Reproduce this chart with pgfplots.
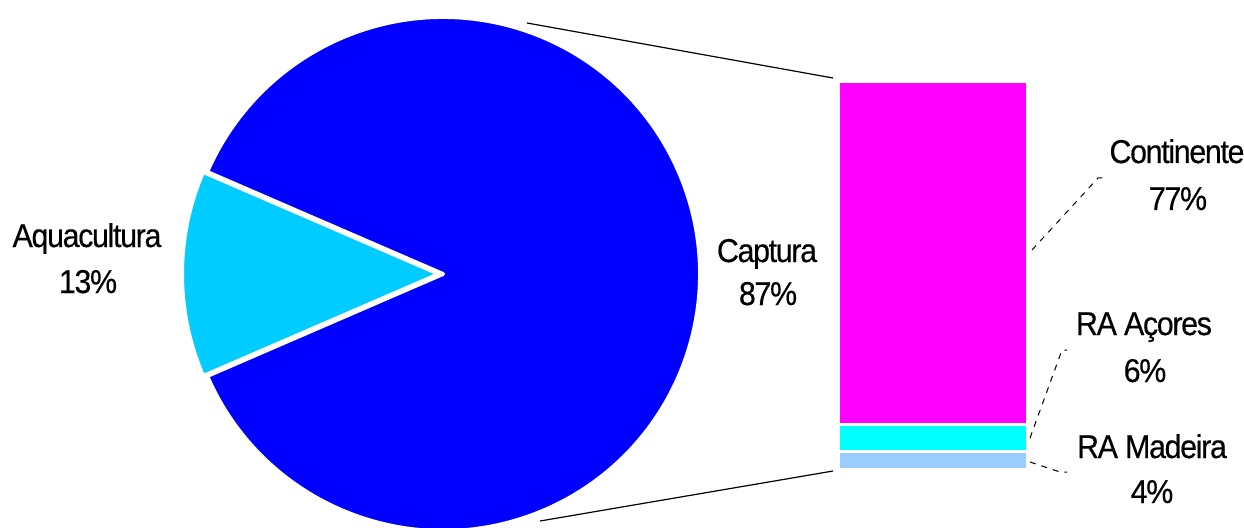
\documentclass[border=0pt]{standalone}
\usepackage{pgfplots}
\pgfplotsset{compat=1.18}
\usepackage{fontspec}
\setmainfont{Liberation Sans}[FakeStretch=0.92, LetterSpace=-4, FakeBold=0.4]
\definecolor{pieblue}{RGB}{0,0,255}
\definecolor{pieaqua}{RGB}{0,204,255}
\definecolor{barmag}{RGB}{255,0,255}
\definecolor{barcyan}{RGB}{0,255,255}
\definecolor{barlight}{RGB}{153,204,255}
\begin{document}
\begin{tikzpicture}[every node/.style={font=\fontsize{16.5}{20}\selectfont, inner sep=0pt}]
% pie values (percent)
\def\vcapt{87}
\def\vaqua{13}
\pgfmathsetmacro{\half}{\vaqua*1.8}
\pgfmathsetmacro{\aS}{180-\half}
\pgfmathsetmacro{\aE}{180+\half}
\pgfmathsetmacro{\cE}{\aS+360}
\begin{axis}[name=main, at={(0,0)}, anchor=south west, scale only axis,
  width=622pt, height=263.5pt, xmin=0, xmax=1244, ymin=0, ymax=527,
  y dir=reverse, hide axis, clip=false]
\addplot[draw=none] coordinates {(0,0)};
\path[fill=pieblue, draw=white, line width=2pt, line join=round]
  (axis cs:443,274) -- ++(\aE:128.5pt) arc[start angle=\aE, end angle=\cE, radius=128.5pt] -- cycle;
\path[fill=pieaqua, draw=white, line width=2pt, line join=round]
  (axis cs:439,274) -- ++(\aS:128.5pt) arc[start angle=\aS, end angle=\aE, radius=128.5pt] -- cycle;
% connector lines
\draw[black, line width=0.6pt] (axis cs:527,23) -- (axis cs:833,78);
\draw[black, line width=0.6pt] (axis cs:540,521) -- (axis cs:833,471);
% leader lines
\draw[black, line width=0.5pt, dash pattern=on 3pt off 3pt] (axis cs:1032,250) -- (axis cs:1098,178) -- (axis cs:1105,178);
\draw[black, line width=0.5pt, dash pattern=on 3pt off 3pt] (axis cs:1030,438) -- (axis cs:1062,350) -- (axis cs:1067,350);
\draw[black, line width=0.5pt, dash pattern=on 3pt off 3pt] (axis cs:1030,462) -- (axis cs:1060,472) -- (axis cs:1067,472);
% labels
\node[anchor=base] at (axis cs:87,247) {Aquacultura};
\node[anchor=base] at (axis cs:88,293) {13\%};
\node[anchor=base] at (axis cs:767,262) {Captura};
\node[anchor=base] at (axis cs:768,305) {87\%};
\node[anchor=base] at (axis cs:1177,163) {Continente};
\node[anchor=base] at (axis cs:1178,210) {77\%};
\node[anchor=base] at (axis cs:1144,335) {RA Açores};
\node[anchor=base] at (axis cs:1145,382) {6\%};
\node[anchor=base] at (axis cs:1152,458) {RA Madeira};
\node[anchor=base] at (axis cs:1152,503) {4\%};
\end{axis}
\begin{axis}[at={(419.5pt,29pt)}, anchor=south west, scale only axis,
  width=94pt, height=193.5pt, xmin=-0.5, xmax=0.5, ymin=0, ymax=87,
  hide axis, ybar stacked, bar width=94pt, clip=false]
\addplot[fill=barlight, draw=white, line width=1.3pt] coordinates {(0,4)};
\addplot[fill=barcyan, draw=white, line width=1.3pt] coordinates {(0,6)};
\addplot[fill=barmag, draw=white, line width=1.3pt] coordinates {(0,77)};
\end{axis}
\pgfresetboundingbox
\useasboundingbox (0,0) rectangle (622pt,263.5pt);
\end{tikzpicture}
\end{document}
